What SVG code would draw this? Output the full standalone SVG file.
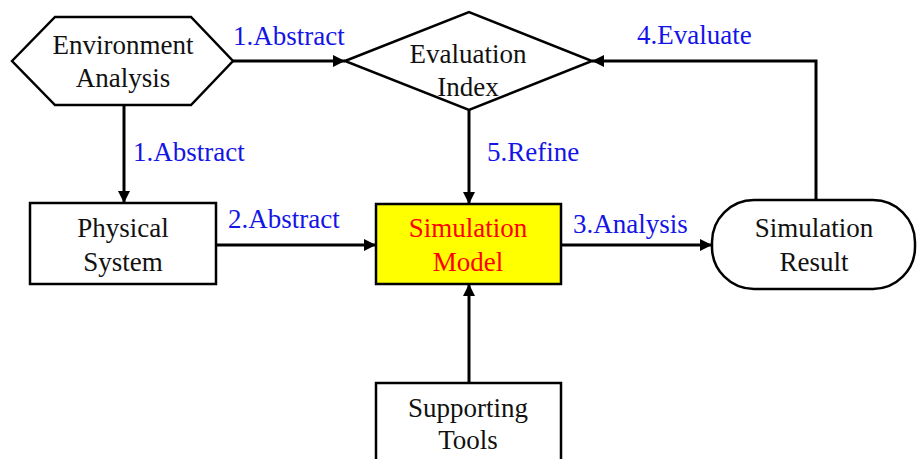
<svg xmlns="http://www.w3.org/2000/svg" width="917" height="459" viewBox="0 0 917 459">
  <defs>
    <marker id="arrow" markerWidth="12" markerHeight="12" refX="12" refY="6" orient="auto" markerUnits="userSpaceOnUse" viewBox="0 0 12 12">
      <path d="M0,0 L12,6 L0,12 Z" fill="#000"/>
    </marker>
    <style>
      .shape { fill: #fff; stroke: #000; stroke-width: 2.5; }
      .model { fill: #ffff00; stroke: #000; stroke-width: 2.5; }
      .edge { fill: none; stroke: #000; stroke-width: 3; marker-end: url(#arrow); }
      text { font-family: 'Liberation Serif', 'DejaVu Serif', 'Times New Roman', serif; font-size: 27px; }
      .txt { fill: #111; text-anchor: middle; }
      .red { fill: #ff0000; }
      .lbl { fill: #1414e6; }
    </style>
  </defs>

  <!-- connectors -->
  <g id="connectors">
    <path class="edge" d="M233,61 L345,61"/>
    <path class="edge" d="M124,106 L124,203"/>
    <path class="edge" d="M216,245 L376,245"/>
    <path class="edge" d="M469,110 L469,204"/>
    <path class="edge" d="M561,245 L712,245"/>
    <path class="edge" d="M816,200 L816,61 L592,61"/>
    <path class="edge" d="M469,383 L469,284"/>
  </g>

  <!-- connector labels -->
  <g id="labels">
    <text class="lbl" x="233" y="45">1.Abstract</text>
    <text class="lbl" x="133" y="161">1.Abstract</text>
    <text class="lbl" x="228" y="228">2.Abstract</text>
    <text class="lbl" x="487" y="161">5.Refine</text>
    <text class="lbl" x="573" y="233">3.Analysis</text>
    <text class="lbl" x="637" y="44">4.Evaluate</text>
  </g>

  <g id="environment-analysis">
    <polygon class="shape" points="12,61 55,17 191,17 233,61 191,105 55,105"/>
    <text class="txt" x="123" y="54">Environment</text>
    <text class="txt" x="123" y="87">Analysis</text>
  </g>

  <g id="evaluation-index">
    <polygon class="shape" points="345,61 469,12 592,61 469,110"/>
    <text class="txt" x="468" y="63">Evaluation</text>
    <text class="txt" x="468" y="96">Index</text>
  </g>

  <g id="physical-system">
    <rect class="shape" x="30" y="203" width="186" height="81"/>
    <text class="txt" x="123" y="237">Physical</text>
    <text class="txt" x="123" y="271">System</text>
  </g>

  <g id="simulation-model">
    <rect class="model" x="376" y="204" width="185" height="80"/>
    <text class="txt red" x="468" y="237">Simulation</text>
    <text class="txt red" x="468" y="271">Model</text>
  </g>

  <g id="simulation-result">
    <rect class="shape" x="712" y="200" width="203" height="89" rx="42" ry="42"/>
    <text class="txt" x="814" y="237">Simulation</text>
    <text class="txt" x="814" y="271">Result</text>
  </g>

  <g id="supporting-tools">
    <rect class="shape" x="376" y="383" width="185" height="90"/>
    <text class="txt" x="468" y="417">Supporting</text>
    <text class="txt" x="468" y="449">Tools</text>
  </g>
</svg>
